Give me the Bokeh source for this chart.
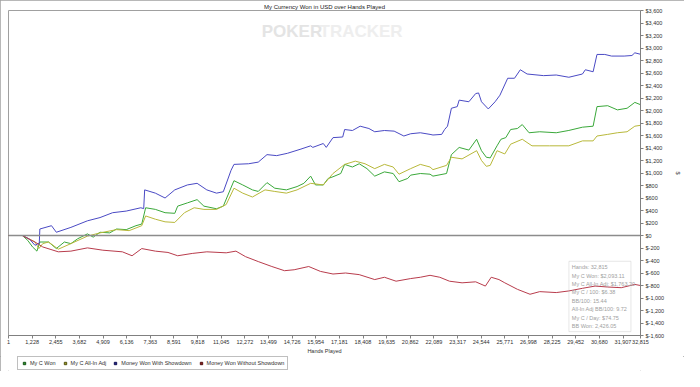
from bokeh.plotting import figure
from bokeh.layouts import column
from bokeh.models import (Span, Label, BoxAnnotation, Legend, LegendItem,
                          FixedTicker, NumeralTickFormatter, CustomJSTickFormatter, Title, Range1d)
from bokeh.embed import file_html
from bokeh.resources import INLINE

# ---------------- data ----------------
title_text = "My Currency Won in USD over Hands Played"
x_ticks = [1, 1228, 2455, 3682, 4909, 6136, 7363, 8591, 9818, 11045, 12272, 13499, 14726,
           15954, 17181, 18408, 19635, 20862, 22089, 23317, 24544, 25771, 26998, 28225,
           29452, 30680, 31907, 32815]
y_ticks = [-1600, -1400, -1200, -1000, -800, -600, -400, -200, 0, 200, 400, 600, 800, 1000,
           1200, 1400, 1600, 1800, 2000, 2200, 2400, 2600, 2800, 3000, 3200, 3400, 3600]

sd_hands = [1, 720, 1100, 1376, 1600, 1628, 2233, 2485, 3241, 4098, 4753, 5408, 6114, 6870, 7021,
            7071, 7626, 8130, 8634, 9289, 9793, 10297, 10801, 11154, 11557, 11708, 12464, 12968,
            13422, 13926, 14480, 15186, 15690, 15800, 16345, 16500, 16849, 17353, 17454, 17857,
            18260, 18714, 19016, 19520, 20024, 20528, 20880, 21384, 21888, 22039, 22493, 22644,
            22795, 22997, 23299, 23400, 23904, 24257, 24408, 24559, 24912, 25265, 25517, 25920,
            26273, 26575, 26928, 27785, 28440, 29095, 29801, 29952, 30355, 30556, 30960, 31312,
            31967, 32370, 32521, 32815]
sd_won = [0, 0, -60, -157, -120, 104, 157, 52, 130, 235, 287, 365, 391, 444, 430,
          730, 678, 600, 730, 809, 835, 730, 678, 700, 1044, 1138, 1148, 1174,
          1294, 1278, 1315, 1383, 1435, 1410, 1472, 1410, 1566, 1576, 1696, 1680,
          1749, 1712, 1660, 1680, 1670, 1592, 1628, 1644, 1618, 1608, 1618, 1696,
          1749, 2036, 2062, 2166, 2140, 2271, 2281, 2140, 2025, 2140, 2245, 2516,
          2516, 2652, 2584, 2558, 2568, 2532, 2584, 2652, 2620, 2897, 2897, 2871,
          2871, 2880, 2923, 2900]

won_hands = [1, 720, 1000, 1250, 1477, 1628, 2082, 2485, 2900, 3241, 3594, 4098, 4400, 4753,
             5257, 5610, 6114, 6618, 6920, 7122, 7626, 8130, 8634, 8785, 9289, 9793, 10146,
             10801, 11154, 11708, 12162, 12666, 12968, 13422, 13825, 14430, 14984, 15337, 15690,
             15942, 16345, 16597, 16849, 17252, 17454, 17857, 18210, 18613, 19016, 19520, 19974,
             20276, 20729, 20880, 21384, 21888, 22039, 22745, 22997, 23400, 23904, 24307, 24559,
             24811, 25013, 25366, 25568, 25820, 26072, 26424, 26676, 27029, 27583, 28440, 29095,
             29801, 30355, 30556, 31111, 31615, 32118, 32521, 32815]
won = [0, 0, -78, -183, -250, -104, -104, -209, -104, -130, -52, 26, -26, 52,
       42, 104, 94, 157, 183, 444, 418, 365, 355, 470, 522, 574, 470,
       428, 470, 877, 809, 730, 705, 846, 757, 730, 783, 835, 950,
       809, 809, 913, 940, 992, 1138, 1096, 1148, 1070, 950, 1018, 992,
       861, 913, 966, 992, 981, 950, 992, 1294, 1409, 1367, 1540, 1357,
       1252, 1242, 1435, 1540, 1566, 1696, 1712, 1775, 1644, 1660, 1644, 1681,
       1733, 1749, 2062, 2077, 2010, 2036, 2130, 2093]

adj_hands = [1, 720, 1376, 1578, 1780, 2082, 2586, 3241, 4098, 4753, 5610, 6265, 6920, 7122,
             7626, 8130, 8634, 9138, 9642, 10146, 10801, 11305, 11708, 12162, 12666, 13321,
             13825, 14430, 14984, 15690, 16345, 16849, 17454, 18008, 18512, 19016, 19520, 19974,
             20276, 20880, 21384, 21888, 22039, 22745, 22997, 23551, 24307, 24559, 24811, 25013,
             25366, 25769, 26072, 26676, 27180, 28087, 29095, 29801, 30355, 30556, 31111, 31615,
             32118, 32521, 32815]
adj_won = [0, 0, -104, -209, -130, -104, -219, -130, -10, 42, 94, 78, 157, 313,
           261, 219, 209, 365, 444, 418, 418, 496, 757, 678, 616, 730,
           705, 678, 730, 835, 809, 992, 1138, 1190, 1148, 1070, 1138, 1096,
           981, 1070, 1138, 1096, 1054, 1122, 1252, 1226, 1357, 1200, 1107, 1122,
           1357, 1305, 1461, 1540, 1435, 1435, 1435, 1514, 1514, 1592, 1618, 1644,
           1660, 1749, 1763]

nsd_hands = [1, 720, 973, 1376, 1780, 2586, 3241, 4098, 4900, 5912, 6416, 6920, 7626, 8281,
             8785, 9540, 10297, 11305, 11809, 12313, 12968, 13674, 14329, 14833, 15589, 16194,
             16849, 17504, 18210, 19016, 19520, 20124, 20880, 21384, 21888, 22392, 22896, 23551,
             24257, 24761, 25063, 25467, 25769, 26424, 27079, 27583, 28440, 29095, 29801, 30456,
             31111, 31816, 32521, 32815]
nsd_won = [0, 0, -42, -104, -183, -261, -250, -198, -235, -261, -324, -209, -250, -271,
           -324, -287, -261, -277, -250, -339, -417, -496, -563, -548, -496, -574,
           -616, -600, -626, -705, -668, -731, -689, -668, -637, -668, -731, -757,
           -741, -809, -668, -705, -757, -861, -940, -898, -913, -887, -845, -809,
           -824, -835, -783, -800]

series_names = ["My C Won", "My C All-In Adj", "Money Won With Showdown", "Money Won Without Showdown"]
info_lines = ["Hands: 32,815", "My C Won: $2,093.11", "My C All-In Adj: $1,763.20",
              "My C / 100: $6.38", "BB/100: 15.44", "All-In Adj BB/100: 9.72",
              "My C / Day: $74.75", "BB Won: 2,426.05"]

# ---------------- styles ----------------
FONT = "Liberation Sans"
FS = "5.5px"
line_colors = ["#3aa83a", "#b8b83a", "#4a4ac4", "#b83c4c"]
legend_fill = ["#2e9a2e", "#a0a028", "#24248e", "#901c1c"]
legend_line = ["#145014", "#505010", "#101050", "#501010"]

LEG_H = 15
p = figure(width=684, height=371 - LEG_H, output_backend="svg", toolbar_location=None,
           x_range=Range1d(1, 32815), y_range=Range1d(-1600, 3600),
           y_axis_location="right", min_border_left=8, min_border_right=2,
           min_border_top=0, min_border_bottom=0)
p.title = Title(text=title_text, align="center", text_font=FONT, text_font_size="6px",
                text_font_style="normal", text_color="#202020", offset=0, standoff=2)
p.outline_line_color = "#a0a0a0"
p.xgrid.grid_line_color = None
p.ygrid.grid_line_color = None
p.background_fill_color = "white"

# watermark
p.add_layout(Label(x=13150, y=3260, text="POKER", text_font=FONT, text_font_size="17px",
                   text_font_style="bold", text_color="#e4e4e4", text_baseline="middle"))
p.add_layout(Label(x=16150, y=3260, text="TRACKER", text_font=FONT, text_font_size="17px",
                   text_font_style="bold", text_color="#eeeeee", text_baseline="middle"))

p.add_layout(Span(location=0, dimension="width", line_color="#8c8c8c", line_width=1.5))

# lines
srcs = [(won_hands, won), (adj_hands, adj_won), (sd_hands, sd_won), (nsd_hands, nsd_won)]
for (xs, ys), c in zip(srcs, line_colors):
    p.line(xs, ys, line_color=c, line_width=1)

# axes
xa = p.xaxis[0]
xa.ticker = FixedTicker(ticks=x_ticks)
xa.formatter = NumeralTickFormatter(format="0,0")
xa.axis_label = "Hands Played"
ya = p.yaxis[0]
ya.ticker = FixedTicker(ticks=y_ticks)
ya.formatter = CustomJSTickFormatter(code="""
    const a = Math.abs(tick).toLocaleString('en-US');
    return tick < 0 ? '$-' + a : '$' + a;
""")
ya.axis_label = "$"
for ax in (xa, ya):
    ax.axis_line_color = "#808080"
    ax.major_tick_line_color = "#808080"
    ax.minor_tick_line_color = None
    ax.major_tick_out = 3
    ax.major_tick_in = 0
    ax.major_label_text_font = FONT
    ax.major_label_text_font_size = FS
    ax.major_label_text_color = "#303030"
    ax.major_label_standoff = 1
    ax.axis_label_text_font = FONT
    ax.axis_label_text_font_size = FS
    ax.axis_label_text_font_style = "normal"
    ax.axis_label_text_color = "#303030"
    ax.axis_label_standoff = 1
ya.major_label_standoff = 2
ya.axis_label_standoff = 8

# info box
p.add_layout(BoxAnnotation(left=29100, right=32320, top=-412, bottom=-1538,
                           fill_alpha=0, line_color="#b0b0b0", line_width=1))
for i, t in enumerate(info_lines):
    p.add_layout(Label(x=29250, y=-506 - 135 * i, text=t, text_font=FONT, text_font_size="5.5px",
                       text_color="#a0a0a0", text_baseline="middle"))

# legend strip (own small figure under the chart)
lp = figure(width=684, height=LEG_H, output_backend="svg", toolbar_location=None,
            x_range=Range1d(0, 1), y_range=Range1d(0, 1),
            x_axis_location=None, y_axis_location=None,
            min_border_left=0, min_border_right=0, min_border_top=0, min_border_bottom=0)
lp.outline_line_color = None
lp.xgrid.grid_line_color = None
lp.ygrid.grid_line_color = None
items = []
nan = float("nan")
for name, fc, lc in zip(series_names, legend_fill, legend_line):
    r = lp.scatter([nan], [nan], marker="square", size=6, fill_color=fc, line_color=lc)
    items.append(LegendItem(label=name, renderers=[r]))
legend = Legend(items=items, orientation="horizontal", location=(9, 1),
                label_text_font=FONT, label_text_font_size=FS, label_text_color="#303030",
                glyph_width=6, glyph_height=6, label_standoff=3, spacing=6,
                padding=3, margin=0, border_line_color="#808080",
                label_height=6, background_fill_color="white")
lp.add_layout(legend, "center")

layout = column(p, lp, spacing=0)
layout.styles = {"outline": "1px solid #a0a0a0", "outline-offset": "-1px"}

open("out.html", "w").write(file_html(layout, INLINE))
